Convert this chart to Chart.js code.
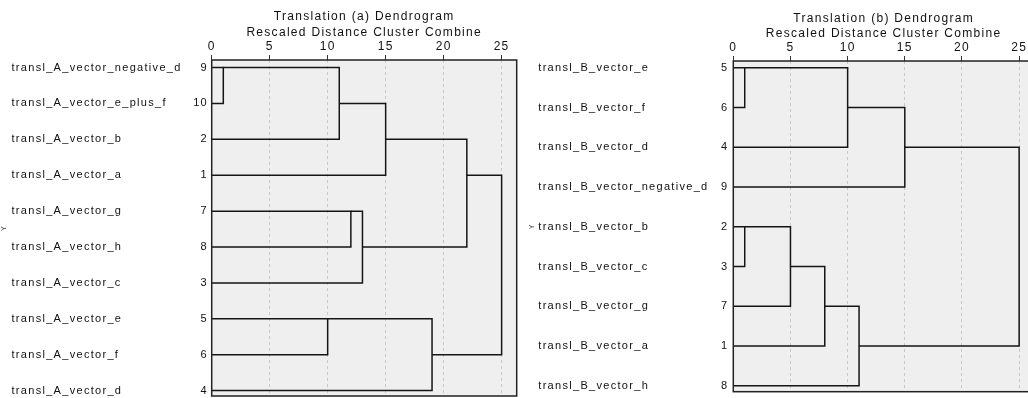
<!DOCTYPE html>
<html>
<head>
<meta charset="utf-8">
<script src="https://cdn.jsdelivr.net/npm/chart.js@4/dist/chart.umd.min.js"></script>
<style>
  html, body { margin: 0; padding: 0; background: #fff; overflow: hidden; width: 1028px; height: 398px; }
  canvas { position: absolute; top: 0; }
  #chartA { left: 0; }
  #chartB { left: 520px; }
</style>
</head>
<body>
<canvas id="chartA" width="520" height="398"></canvas>
<canvas id="chartB" width="520" height="398"></canvas>
<script>
const distTicks = [0, 5, 10, 15, 20, 25];

// Translation (a)
const leafNamesA = ['transl_A_vector_negative_d', 'transl_A_vector_e_plus_f', 'transl_A_vector_b', 'transl_A_vector_a',
  'transl_A_vector_g', 'transl_A_vector_h', 'transl_A_vector_c', 'transl_A_vector_e', 'transl_A_vector_f', 'transl_A_vector_d'];
const leafIdsA = ['9', '10', '2', '1', '7', '8', '3', '5', '6', '4'];
// agglomeration steps: L = leaf row, C = earlier step
const stepDistA = [1, 10, 11, 12, 13, 15, 19, 22, 25];
const stepFirstA = ['L0', 'L7', 'C0', 'L4', 'C3', 'C2', 'C1', 'C5', 'C7'];
const stepSecondA = ['L1', 'L8', 'L2', 'L5', 'L6', 'L3', 'L9', 'C4', 'C6'];

// Translation (b)
const leafNamesB = ['transl_B_vector_e', 'transl_B_vector_f', 'transl_B_vector_d', 'transl_B_vector_negative_d',
  'transl_B_vector_b', 'transl_B_vector_c', 'transl_B_vector_g', 'transl_B_vector_a', 'transl_B_vector_h'];
const leafIdsB = ['5', '6', '4', '9', '2', '3', '7', '1', '8'];
const stepDistB = [1, 1, 5, 8, 10, 11, 15, 25];
const stepFirstB = ['L0', 'L4', 'C1', 'C2', 'C0', 'C3', 'C4', 'C6'];
const stepSecondB = ['L1', 'L5', 'L6', 'L7', 'L2', 'L8', 'L3', 'C5'];

const FONT = "'Liberation Sans', Arial, Helvetica, sans-serif";

// turn the steps into one elbow path per merge
function buildPaths(dists, firsts, seconds) {
  const rows = [];
  const node = ref => {
    const k = parseInt(ref.slice(1));
    return ref[0] === 'L' ? { x: 0, y: k } : { x: dists[k], y: rows[k] };
  };
  const sets = [];
  dists.forEach((d, i) => {
    const a = node(firsts[i]);
    const b = node(seconds[i]);
    rows.push(Math.floor((a.y + b.y) / 2));
    sets.push({
      data: [{ x: a.x, y: a.y }, { x: d, y: a.y }, { x: d, y: b.y }, { x: b.x, y: b.y }],
      showLine: true,
      borderColor: '#151515',
      borderWidth: 1.5,
      pointRadius: 0,
      yAxisID: 'y'
    });
  });
  return sets;
}

const framePlugin = {
  id: 'frame',
  beforeDraw(chart) {
    const { ctx, chartArea: a } = chart;
    ctx.letterSpacing = '1.3px';
    ctx.save();
    ctx.fillStyle = '#efefef';
    ctx.fillRect(a.left, a.top, a.right - a.left, a.bottom - a.top);
    ctx.restore();
  },
  afterDatasetsDraw(chart) {
    const { ctx, chartArea: a } = chart;
    ctx.save();
    ctx.strokeStyle = '#222';
    ctx.lineWidth = 1.5;
    ctx.strokeRect(a.left, a.top, a.right - a.left, a.bottom - a.top);
    ctx.restore();
  }
};

function fixBox(w, h) {
  return s => {
    if (w !== null) s.width = w;
    if (h !== null) s.height = h;
    s.paddingTop = 0; s.paddingBottom = 0; s.paddingLeft = 0; s.paddingRight = 0;
  };
}

function makeChart(id, title, names, ids, dists, firsts, seconds, g) {
  const yMin = -g.padTop, yMax = names.length - 1 + g.padBottom;
  const rowTicks = s => { s.ticks = names.map((n, i) => ({ value: i })); };
  return new Chart(document.getElementById(id), {
    type: 'scatter',
    data: { datasets: buildPaths(dists, firsts, seconds) },
    options: {
      responsive: false,
      animation: false,
      layout: { padding: g.padding },
      plugins: { legend: { display: false }, tooltip: { enabled: false } },
      scales: {
        x: {
          position: 'top',
          min: 0,
          max: 26.3,
          afterBuildTicks: s => { s.ticks = distTicks.map(v => ({ value: v })); },
          afterFit: fixBox(null, 60),
          ticks: { color: '#111', padding: 2, font: { family: FONT, size: 12, lineHeight: 1 } },
          grid: { color: '#c8c8c8', tickColor: '#333', tickLength: 5, tickBorderDash: [] },
          border: { display: false, dash: [3, 3] },
          title: {
            display: true,
            text: ['Translation (' + title + ') Dendrogram', 'Rescaled Distance Cluster Combine'],
            color: '#111',
            font: { family: FONT, size: 12, lineHeight: 1.3 },
            padding: { top: g.titleTop, bottom: 0 }
          }
        },
        y: {
          position: 'left',
          weight: 0,
          reverse: true,
          min: yMin,
          max: yMax,
          afterBuildTicks: rowTicks,
          afterFit: fixBox(g.numW, null),
          ticks: { color: '#111', padding: g.numPad, autoSkip: false, callback: v => ids[v], font: { family: FONT, size: 11 } },
          grid: { display: false, drawTicks: false },
          border: { display: false }
        },
        yNames: {
          position: 'left',
          weight: 1,
          reverse: true,
          min: yMin,
          max: yMax,
          afterBuildTicks: rowTicks,
          afterFit: fixBox(g.nameW, null),
          ticks: { color: '#111', crossAlign: 'far', autoSkip: false, callback: v => names[v], font: { family: FONT, size: 11 } },
          grid: { display: false, drawTicks: false },
          border: { display: false }
        },
        yTitle: {
          position: 'left',
          weight: 2,
          min: yMin,
          max: yMax,
          afterFit: fixBox(g.titleW, null),
          ticks: { display: false },
          grid: { display: false, drawTicks: false },
          border: { display: false },
          title: { display: true, text: 'Y', color: '#333', font: { family: FONT, size: 7 }, padding: { top: g.yTitlePad, bottom: 0 } }
        }
      }
    },
    plugins: [framePlugin]
  });
}

makeChart('chartA', 'a', leafNamesA, leafIdsA, stepDistA, stepFirstA, stepSecondA, {
  padTop: 0.21, padBottom: 0.15,
  padding: { left: 0, right: 3.3, top: 0, bottom: 2 },
  titleTop: 9.2, titleW: 11.5, nameW: 175.2, numW: 25, numPad: 3.7, yTitlePad: 0
});

makeChart('chartB', 'b', leafNamesB, leafIdsB, stepDistB, stepFirstB, stepSecondB, {
  padTop: 0.17, padBottom: 0.15,
  padding: { left: 0, right: 6, top: 1, bottom: 6.3 },
  titleTop: 9.7, titleW: 18.3, nameW: 172, numW: 23, numPad: 5, yTitlePad: 7.4
});
</script>
</body>
</html>
